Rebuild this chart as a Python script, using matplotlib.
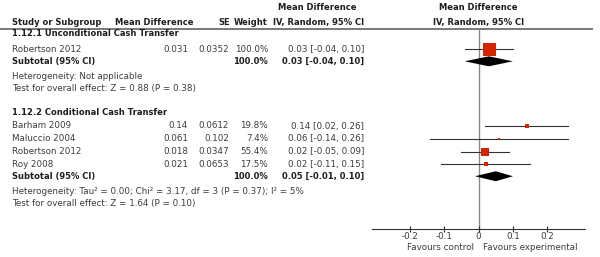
import matplotlib
matplotlib.use("Agg")
import matplotlib.pyplot as plt

# ---- data
groups = ["1.12.1 Unconditional Cash Transfer", "1.12.2 Conditional Cash Transfer"]
studies_1 = ["Robertson 2012"]
md_1 = ["0.031"]
se_1 = ["0.0352"]
weight_1 = [100.0]
est_1 = [0.031]
lo_1 = [-0.04]
hi_1 = [0.10]
ci_text_1 = ["0.03 [-0.04, 0.10]"]
sub_1 = (0.03, -0.04, 0.10)
sub_text_1 = "0.03 [-0.04, 0.10]"
het_1 = "Heterogeneity: Not applicable"
test_1 = "Test for overall effect: Z = 0.88 (P = 0.38)"

studies_2 = ["Barham 2009", "Maluccio 2004", "Robertson 2012", "Roy 2008"]
md_2 = ["0.14", "0.061", "0.018", "0.021"]
se_2 = ["0.0612", "0.102", "0.0347", "0.0653"]
weight_2 = [19.8, 7.4, 55.4, 17.5]
est_2 = [0.14, 0.061, 0.018, 0.021]
lo_2 = [0.02, -0.14, -0.05, -0.11]
hi_2 = [0.26, 0.26, 0.09, 0.15]
ci_text_2 = ["0.14 [0.02, 0.26]", "0.06 [-0.14, 0.26]",
             "0.02 [-0.05, 0.09]", "0.02 [-0.11, 0.15]"]
sub_2 = (0.05, -0.01, 0.10)
sub_text_2 = "0.05 [-0.01, 0.10]"
het_2 = "Heterogeneity: Tau\u00b2 = 0.00; Chi\u00b2 = 3.17, df = 3 (P = 0.37); I\u00b2 = 5%"
test_2 = "Test for overall effect: Z = 1.64 (P = 0.10)"

ticks = [-0.2, -0.1, 0, 0.1, 0.2]
tick_labels = ["-0.2", "-0.1", "0", "0.1", "0.2"]

# ---- figure: background axes in pixel units, forest axes on the right
W, H = 600, 257
fig = plt.figure(figsize=(6.0, 2.57), dpi=100)
bg = fig.add_axes([0, 0, 1, 1])
bg.set_xlim(0, W)
bg.set_ylim(H, 0)
bg.axis("off")

ax = fig.add_axes([372 / W, 0, 213 / W, 1])
ax.set_xlim(-0.3096, 0.3096)
ax.set_ylim(H, 0)
ax.patch.set_alpha(0)

fs = 6.3
fsb = 6.0
dark = "#1e1e1e"
grey = "#3c3c3c"
red = "#d42400"

# column x positions (px)
x_name = 12
x_md = 188
x_se = 229
x_w = 268
x_ci = 364


def btext(a, x, y, s, ha="left"):
    a.text(x, y, s, ha=ha, va="center", fontsize=fsb, fontweight="bold", color=dark)


def ntext(a, x, y, s, ha="left"):
    a.text(x, y, s, ha=ha, va="center", fontsize=fs, color=grey)


# header
btext(bg, 317, 8, "Mean Difference", "center")
btext(bg, x_name, 22.5, "Study or Subgroup")
btext(bg, 115, 22.5, "Mean Difference")
btext(bg, x_se + 1, 22.5, "SE", "right")
btext(bg, x_w, 22.5, "Weight", "right")
btext(bg, x_ci, 22.5, "IV, Random, 95% CI", "right")
btext(ax, 0, 8, "Mean Difference", "center")
btext(ax, 0, 22.5, "IV, Random, 95% CI", "center")
bg.plot([0, 593], [29, 29], color="#6e6e6e", lw=1.3, solid_capstyle="butt")


def draw_group(title, y0, first, step, names, mds, ses, ws, est, lo, hi, cis,
               sub, sub_text, het, test):
    btext(bg, x_name, y0, title)
    for i in range(len(names)):
        yy = y0 + first + i * step
        ntext(bg, x_name, yy, names[i])
        ntext(bg, x_md, yy, mds[i], "right")
        ntext(bg, x_se, yy, ses[i], "right")
        ntext(bg, x_w, yy, "%.1f%%" % ws[i], "right")
        ntext(bg, x_ci, yy, cis[i], "right")
        ax.plot([lo[i], hi[i]], [yy, yy], color="#333333", lw=0.8)
        side_px = 1.5 + 11.5 * ws[i] / 100.0
        ax.plot(est[i], yy, marker="s", ms=side_px * 0.72, color=red, mec=red, mew=0)
    ys = y0 + first + (len(names) - 1) * step + 12.0
    btext(bg, x_name, ys, "Subtotal (95% CI)")
    btext(bg, x_w, ys, "100.0%", "right")
    btext(bg, x_ci, ys, sub_text, "right")
    m, l, h = sub
    ax.fill([l, m, h, m], [ys, ys - 5, ys, ys + 5], color="black", lw=0)
    ntext(bg, x_name, ys + 15.5, het)
    ntext(bg, x_name, ys + 27.3, test)


draw_group(groups[0], 33.5, 15.8, 12.7, studies_1, md_1, se_1, weight_1, est_1,
           lo_1, hi_1, ci_text_1, sub_1, sub_text_1, het_1, test_1)
draw_group(groups[1], 112.7, 13.3, 12.75, studies_2, md_2, se_2, weight_2, est_2,
           lo_2, hi_2, ci_text_2, sub_2, sub_text_2, het_2, test_2)

# zero line and x axis
ax.vlines(0, 29, 228.5, color="#8a8a8a", lw=1.0, zorder=0)
for s in ["top", "left", "right"]:
    ax.spines[s].set_visible(False)
ax.spines["bottom"].set_position(("data", 228.5))
ax.spines["bottom"].set_color("#333333")
ax.spines["bottom"].set_linewidth(0.8)
ax.set_yticks([])
ax.set_xticks(ticks)
ax.set_xticklabels(tick_labels)
ax.tick_params(axis="x", direction="inout", length=4, width=0.8, color="#333333",
               labelsize=fs, labelcolor=grey, pad=0.8)

ntext(ax, -0.012, 247, "Favours control", "right")
ntext(ax, 0.012, 247, "Favours experimental")

fig.savefig("out.png", dpi=100)
